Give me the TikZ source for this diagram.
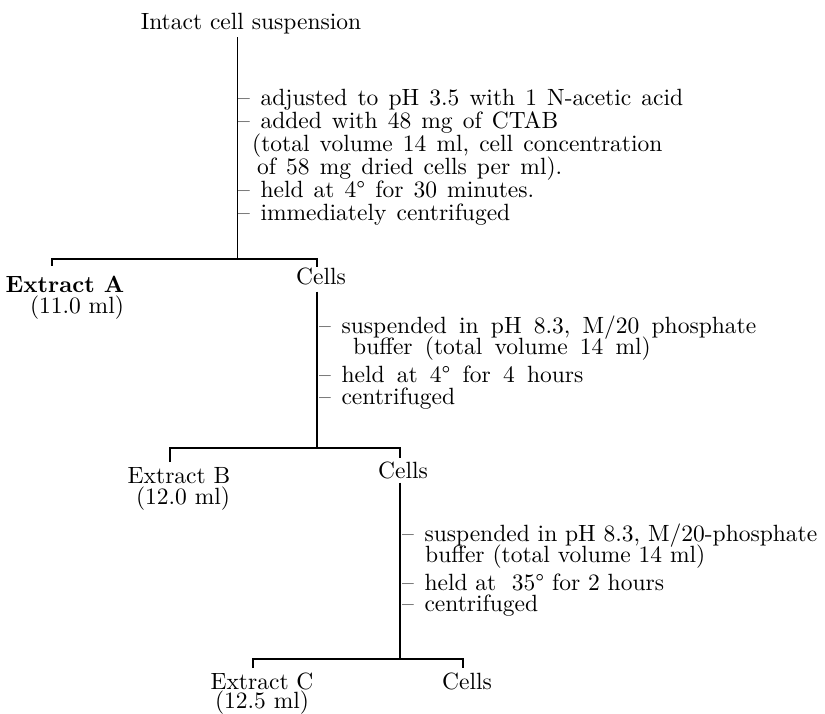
\documentclass[tikz,border=0pt]{standalone}
\usepackage{fontspec}
\setmainfont{lmroman10-regular}[Extension=.otf, BoldFont=lmroman10-bold]
\newcommand\dsh{–\hspace{0.45em}}
\newcommand\wspA{\spaceskip=0.43em plus 0.1em\relax}
\newcommand\wspB{\spaceskip=0.52em plus 0.1em\relax}
\begin{document}
\begin{tikzpicture}[x=1pt,y=-1pt,
  txt/.style={inner sep=0pt, font=\fontsize{23.5}{27}\selectfont},
  note/.style={txt, anchor=base west},
  noteA/.style={note, font=\fontsize{23.5}{27}\selectfont\wspA},
  noteB/.style={note, font=\fontsize{23.5}{27}\selectfont\wspB},
  lbl/.style={txt, anchor=base},
  ln/.style={line width=1.5pt, line cap=butt}]
\useasboundingbox (0,0) rectangle (825,714);

% top
\node[lbl] (top) at (251,30) {Intact cell suspension};
\coordinate (j1) at (237.5,259);
\coordinate (a1L) at (52,259);
\coordinate (a1R) at (317,259);
\coordinate (a1Lt) at (52,266);
\coordinate (a1Rt) at (317,267);
\draw[ln, shorten <=2.5pt] (top.south -| j1) -- (j1);
\draw[ln] (a1Lt) -- (a1L) -- (a1R) -- (a1Rt);

\node[noteA] (n11) at (238,106) {\dsh adjusted to pH 3.5 with 1 N-acetic acid};
\node[noteA] (n12) at (238,129) {\dsh added with 48 mg of CTAB};
\node[noteA] (n13) at (252,152) {(total volume 14 ml, cell concentration};
\node[noteA] (n14) at (257,175) {of 58 mg dried cells per ml).};
\node[noteA] (n15) at (238,198) {\dsh held at 4° for 30 minutes.};
\node[noteA] (n16) at (238,221) {\dsh immediately centrifuged};

\node[lbl] (eA) at (65,292) {\bfseries Extract A};
\node[lbl] (vA) at (77,313) {(11.0 ml)};
\node[lbl] (cA) at (321,285) {Cells};

% second stage
\coordinate (j2) at (317,448);
\coordinate (b1L) at (170,448);
\coordinate (b1R) at (400,448);
\coordinate (b1Lt) at (170,462);
\coordinate (b1Rt) at (400,458);
\draw[ln, shorten <=6pt] (cA.south -| j2) -- (j2);
\draw[ln] (b1Lt) -- (b1L) -- (b1R) -- (b1Rt);

\node[noteB] (n21) at (319,333) {\dsh suspended in pH 8.3, M/20 phosphate};
\node[noteB] (n22) at (353,354) {buffer (total volume 14 ml)};
\node[noteB] (n23) at (319,382) {\dsh held at 4° for 4 hours};
\node[noteB] (n24) at (319,404) {\dsh centrifuged};

\node[lbl] (eB) at (179,483) {Extract B};
\node[lbl] (vB) at (183,504) {(12.0 ml)};
\node[lbl] (cB) at (403,478) {Cells};

% third stage
\coordinate (j3) at (400,659);
\coordinate (c1L) at (253,659);
\coordinate (c1R) at (463,659);
\coordinate (c1Lt) at (253,668);
\coordinate (c1Rt) at (463,668);
\draw[ln, shorten <=4pt] (cB.south -| j3) -- (j3);
\draw[ln] (c1Lt) -- (c1L) -- (c1R) -- (c1Rt);

\node[note] (n31) at (402,541) {\dsh suspended in pH 8.3, M/20-phosphate};
\node[note] (n32) at (425,562) {buffer (total volume 14 ml)};
\node[note] (n33) at (402,590) {\dsh held at \ 35° for 2 hours};
\node[note] (n34) at (402,611) {\dsh centrifuged};

\node[lbl] (eC) at (262,689) {Extract C};
\node[lbl] (vC) at (262,708) {(12.5 ml)};
\node[lbl] (cC) at (467,689) {Cells};
\end{tikzpicture}
\end{document}
